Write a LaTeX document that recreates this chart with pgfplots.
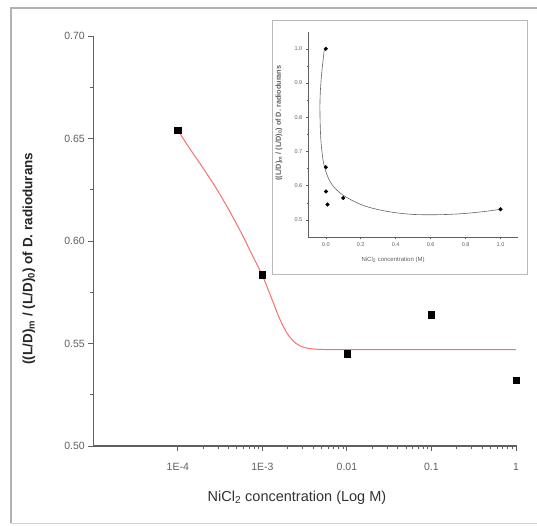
\documentclass[border=0pt]{standalone}
\usepackage{pgfplots}
\pgfplotsset{compat=1.18}
\usepackage{fontspec}
\setmainfont{Liberation Sans}
\definecolor{axgray}{RGB}{95,95,95}
\definecolor{fitred}{RGB}{250,110,110}
\begin{document}
\begin{tikzpicture}[x=1pt,y=1pt]
\path[use as bounding box] (0,0) rectangle (537,525);
\draw[gray!60, line width=1.5] (11,2) -- (11,517) -- (537,517);
\draw[gray!35, line width=1] (11,2) -- (537,2);
% inset frame
\draw[gray!55, line width=1, fill=white] (272,251) rectangle (527,504);
\begin{axis}[
 at={(93.3pt,79pt)}, anchor=south west, scale only axis,
 width=423.4pt, height=410pt,
 xmode=log, xmin=1e-5, xmax=1.02, ymin=0.5, ymax=0.7,
 axis x line=bottom, axis y line=left,
 axis line style={axgray, line width=1.3pt, -},
 tick align=outside, major tick length=5pt, minor tick length=3pt,
 every tick/.style={axgray, line width=0.9pt},
 xtick={1e-4,1e-3,0.01,0.1,1}, xticklabels={1E-4,1E-3,0.01,0.1,1},
 ytick={0.5,0.55,0.6,0.65,0.7}, minor ytick={0.525,0.575,0.625,0.675},
 yticklabel style={/pgf/number format/.cd, fixed, fixed zerofill, precision=2},
 /pgf/number format/assume math mode=true,
 ticklabel style={font=\fontsize{10.5}{12}\selectfont, text=axgray},
 xticklabel style={yshift=-9pt},
 xlabel={NiCl\textsubscript{2} concentration (Log M)},
 xlabel style={at={(axis description cs:0.481,-0.127)}, anchor=center, font=\fontsize{14.5}{16}\selectfont, text=black!80},
 ylabel={\textbf{((L/D)\textsubscript{m} / (L/D)\textsubscript{0}) of D. radiodurans}},
 ylabel style={at={(axis description cs:-0.152,0.457)}, anchor=center, font=\fontsize{13.5}{15}\selectfont, text=black!85},
 clip=false,
]
\addplot[fitred, line width=1pt, smooth] coordinates {
 (1e-4,0.654) (1.413e-4,0.6445) (1.995e-4,0.6355) (2.818e-4,0.6260)
 (3.981e-4,0.6155) (5.623e-4,0.6040) (7.943e-4,0.5915) (1e-3,0.5832)
 (1.259e-3,0.5730) (1.585e-3,0.5625) (1.995e-3,0.5545) (2.512e-3,0.5500)
 (3.162e-3,0.5480) (5.012e-3,0.5471) (0.02,0.547) (1,0.547)
};
\addplot[only marks, mark=square*, mark size=3.2pt, black] coordinates {
 (1e-4,0.654) (1e-3,0.5835) (0.01,0.545) (0.1,0.564) (1,0.532)
};
\end{axis}
\begin{axis}[
 at={(308.3pt,288pt)}, anchor=south west, scale only axis,
 width=209.7pt, height=205.3pt,
 xmin=-0.1, xmax=1.1, ymin=0.45, ymax=1.05,
 axis x line=bottom, axis y line=left,
 axis line style={axgray, line width=0.7pt, -},
 tick align=outside, major tick length=2.5pt, minor tick length=1.5pt,
 every tick/.style={axgray, line width=0.5pt},
 xtick={0,0.2,0.4,0.6,0.8,1.0}, minor xtick={0.1,0.3,0.5,0.7,0.9},
 ytick={0.5,0.6,0.7,0.8,0.9,1.0}, minor ytick={0.55,0.65,0.75,0.85,0.95},
 xticklabel style={/pgf/number format/.cd, fixed, fixed zerofill, precision=1},
 yticklabel style={/pgf/number format/.cd, fixed, fixed zerofill, precision=1},
 /pgf/number format/assume math mode=true,
 ticklabel style={font=\fontsize{5.5}{6}\selectfont, text=axgray},
 xlabel={NiCl\textsubscript{2} concentration (M)},
 xlabel style={at={(axis description cs:0.404,-0.112)}, anchor=center, font=\fontsize{6}{7}\selectfont, text=axgray},
 ylabel={\textbf{((L/D)\textsubscript{m} / (L/D)\textsubscript{0}) of D. radiodurans}},
 ylabel style={at={(axis description cs:-0.14,0.555)}, anchor=center, font=\fontsize{7.3}{8}\selectfont, text=axgray},
 clip=false,
]
\addplot[black!60, line width=0.6pt, smooth, tension=0.55] coordinates {
 (-0.008,1.0) (-0.025,0.92) (-0.033,0.85) (-0.032,0.78) (-0.026,0.72)
 (-0.012,0.665) (0.01,0.628) (0.04,0.600) (0.1,0.572) (0.2,0.545)
 (0.3,0.530) (0.4,0.521) (0.5,0.516) (0.6,0.515) (0.7,0.516)
 (0.8,0.519) (0.9,0.524) (1.0,0.531)
};
\addplot[only marks, mark=*, mark size=1.8pt, black] coordinates {
 (0,1.0) (0.0001,0.654) (0.001,0.583) (0.01,0.545) (0.1,0.564) (1,0.531)
};
\end{axis}
\end{tikzpicture}
\end{document}
